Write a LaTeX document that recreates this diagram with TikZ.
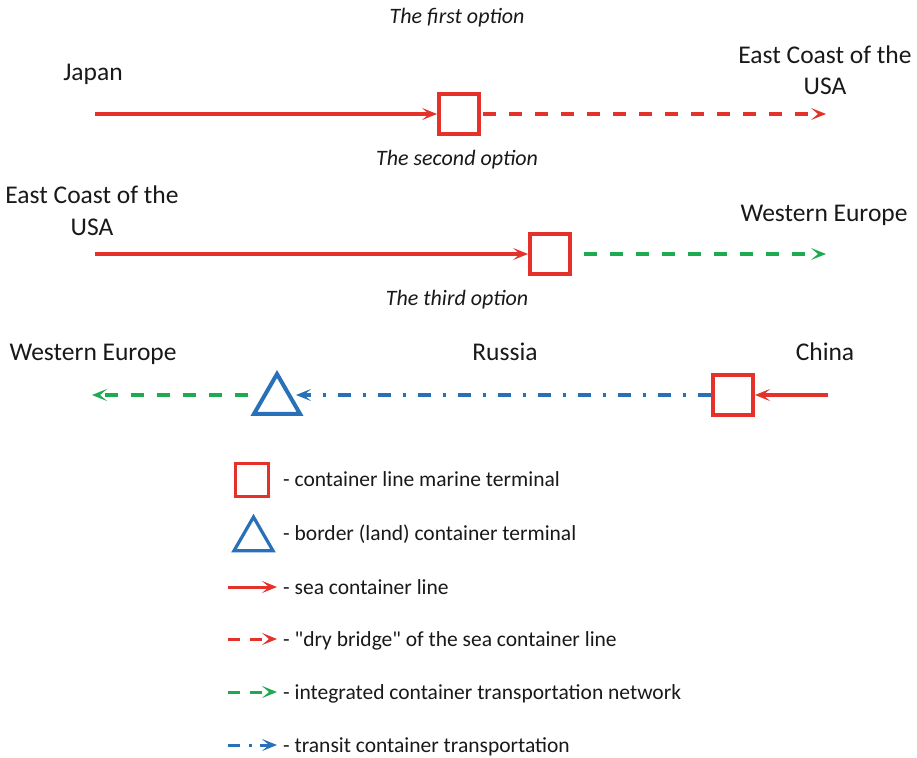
\documentclass[tikz,border=0pt]{standalone}
\usepackage{fontspec}
\setmainfont{Carlito}
\usetikzlibrary{arrows.meta,shapes.geometric}
\definecolor{cred}{RGB}{228,50,42}
\definecolor{cgreen}{RGB}{30,170,80}
\definecolor{cblue}{RGB}{40,112,184}
\definecolor{ctext}{RGB}{25,25,25}
\begin{document}
\begin{tikzpicture}[x=1pt,y=-1pt,
  lbl/.style={font=\fontsize{25.5}{31}\selectfont, text=ctext, inner sep=0pt, anchor=base},
  opt/.style={font=\itshape\fontsize{22}{26}\selectfont, text=ctext, inner sep=0pt, anchor=base},
  leg/.style={font=\fontsize{21.5}{25}\selectfont, text=ctext, inner sep=0pt, anchor=base west},
  marine/.style={draw=cred, line width=4pt, minimum size=40pt, inner sep=0pt, fill=white},
  border/.style={regular polygon, regular polygon sides=3, draw=cblue, line width=4pt, inner sep=0pt, minimum size=53pt},
  tip/.style={-{Stealth[length=15pt,width=12pt,inset=7pt]}},
  seal/.style={tip, draw=cred, line width=3.6pt, color=cred},
  dryb/.style={tip, draw=cred, line width=3.6pt, color=cred, dash pattern=on 13pt off 13pt},
  integ/.style={tip, draw=cgreen, line width=3.6pt, color=cgreen, dash pattern=on 13pt off 13pt},
  trans/.style={tip, draw=cblue, line width=3.6pt, color=cblue, dash pattern=on 13pt off 12pt on 3pt off 12pt},
]
\useasboundingbox[fill=white] (0,0) rectangle (917,757);

% ---- first option
\node[opt] (o1) at (457,24) {The first option};
\node[lbl] (jp) at (93,81) {Japan};
\node[lbl] (ec1a) at (825,64) {East Coast of the};
\node[lbl] (ec1b) at (825,95) {USA};
\coordinate (r1s) at (95,114);
\node[marine] (sq1) at (459,114) {};
\coordinate (r1e) at (826,114);
\draw[seal] (r1s) -- (sq1.west);
\draw[dryb, shorten <=2pt] (sq1.east) -- (r1e);

% ---- second option
\node[opt] (o2) at (457,165) {The second option};
\node[lbl] (ec2a) at (92,203) {East Coast of the};
\node[lbl] (ec2b) at (92,235) {USA};
\node[lbl] (we1) at (824,221) {Western Europe};
\coordinate (r2s) at (95,254);
\node[marine] (sq2) at (550,254) {};
\coordinate (r2e) at (826,254);
\draw[seal] (r2s) -- (sq2.west);
\draw[integ, shorten <=12pt] (sq2.east) -- (r2e);

% ---- third option
\node[opt] (o3) at (457,305) {The third option};
\node[lbl] (we2) at (93,360) {Western Europe};
\node[lbl] (ru) at (505,360) {Russia};
\node[lbl] (cn) at (825,360) {China};
\coordinate (r3s) at (828,395);
\node[marine] (sq3) at (733,395) {};
\node[border] (tr) at (277,400.5) {};
\coordinate (r3e) at (92,395);
\draw[seal] (r3s) -- (sq3.east);
\draw[trans, shorten >=19pt] (sq3.west) -- (tr.center |- sq3.west);
\draw[integ, shorten <=29pt] (tr.center |- r3e) -- (r3e);

% ---- legend
\node[marine, minimum size=33pt, line width=3pt] (lsq) at (251.5,479.5) {};
\node[leg] (t1) at (283,486) {- container line marine terminal};
\node[border, minimum size=45pt, line width=3.2pt] (ltr) at (253.5,539.5) {};
\node[leg] (t2) at (283,540) {- border (land) container terminal};

\coordinate (a1s) at (228,587); \coordinate (a1e) at (277,587);
\draw[seal, line width=3pt] (a1s) -- (a1e);
\node[leg] (t3) at (283,594) {- sea container line};

\coordinate (a2s) at (228,639); \coordinate (a2e) at (277,639);
\draw[dryb, line width=3pt, dash pattern=on 12pt off 10pt] (a2s) -- (a2e);
\node[leg] (t4) at (283,646) {- \textquotedbl dry bridge\textquotedbl\ of the sea container line};

\coordinate (a3s) at (228,692); \coordinate (a3e) at (277,692);
\draw[integ, line width=3pt, dash pattern=on 12pt off 10pt] (a3s) -- (a3e);
\node[leg] (t5) at (283,699) {- integrated container transportation network};

\coordinate (a4s) at (228,745); \coordinate (a4e) at (277,745);
\draw[trans, line width=3pt, dash pattern=on 12pt off 9pt on 3pt off 8pt] (a4s) -- (a4e);
\node[leg] (t6) at (283,752) {- transit container transportation};
\end{tikzpicture}
\end{document}
